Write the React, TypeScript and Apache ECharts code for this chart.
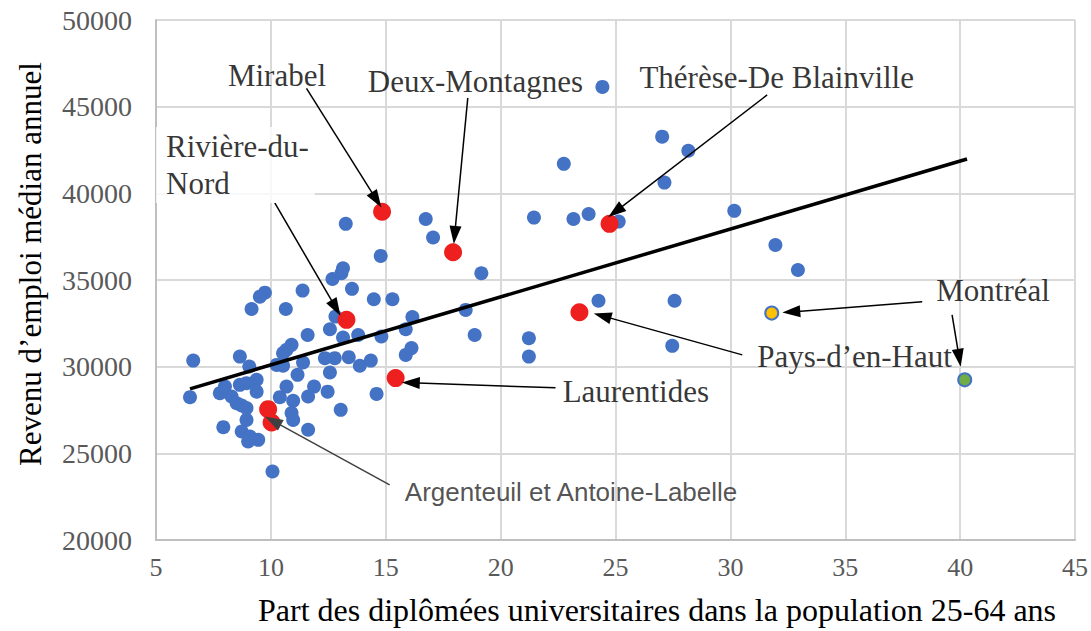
import React, { useEffect, useRef } from "react";
import * as echarts from "echarts";

// Blue points: other MRCs
const blueX = [6.62, 6.48, 7.93, 7.78, 8.0, 8.29, 8.65, 8.51, 8.73, 8.73, 9.16, 9.06, 9.38, 8.94, 8.65, 9.38, 8.94, 8.94, 9.09, 9.45, 9.01, 9.74, 9.52, 10.07, 10.25, 10.53, 10.65, 10.9, 10.68, 10.53, 10.68, 10.39, 10.97, 10.9, 10.97, 11.16, 11.4, 11.38, 11.6, 11.88, 11.62, 11.62, 12.35, 12.78, 13.39, 12.57, 12.47, 12.57, 12.81, 13.14, 13.07, 12.68, 13.53, 13.14, 13.8, 13.87, 14.35, 14.6, 13.04, 14.48, 15.29, 14.81, 14.78, 13.26, 15.87, 16.16, 16.12, 15.87, 16.74, 17.06, 19.16, 18.48, 18.87, 21.23, 21.23, 21.45, 22.75, 23.17, 23.83, 25.14, 24.26, 24.43, 27.03, 28.17, 27.13, 27.57, 27.47, 30.17, 31.96, 32.94];
const blueY = [30350, 28240, 26510, 28470, 28850, 28280, 30580, 27890, 27760, 26260, 33330, 30010, 29240, 29050, 28950, 28560, 27610, 26930, 25970, 25780, 25680, 34270, 34040, 23950, 30100, 30050, 33330, 31260, 30970, 30780, 28850, 28240, 28030, 27320, 26930, 29530, 30240, 34390, 31830, 28850, 28280, 26360, 30490, 30490, 30550, 29660, 28560, 32160, 32890, 35680, 35390, 35060, 34490, 31680, 31830, 30050, 30350, 28430, 27510, 33890, 33890, 31740, 36390, 38240, 32160, 32860, 31070, 30680, 38520, 37450, 35390, 33275, 31830, 31640, 30580, 38600, 41700, 38520, 38810, 38370, 33800, 46140, 43270, 42460, 40620, 33800, 31200, 38990, 37020, 35580];

// Red points: Laurentides MRCs
const redNames = ["Mirabel", "Deux-Montagnes", "Thérèse-De Blainville", "Rivière-du-Nord", "Pays-d'en-Haut", "Laurentides", "Argenteuil", "Antoine-Labelle"];
const redX = [14.84, 17.93, 24.74, 13.29, 23.43, 15.43, 9.88, 10.03];
const redY = [38940, 36600, 38240, 32700, 33140, 29340, 27550, 26780];

// Montréal points
const montrealX = [31.8, 40.2];
const montrealY = [33090, 29240];
const montrealColors = ["#FFC000", "#70AD47"];

// Trend line endpoints
const trendX = [6.48, 40.3];
const trendY = [28720, 41980];

// Annotation labels
const labelTexts = ["Mirabel", "Deux-Montagnes", "Thérèse-De Blainville", "Rivière-du-\nNord", "Laurentides", "Pays-d\u2019en-Haut", "Montréal"];
const labelX = [8.13, 14.22, 26.04, 5.0, 22.7, 31.17, 38.96];
const labelY = [46770, 46425, 46655, 41640, 28550, 30565, 34370];
const sansLabelText = "Argenteuil et Antoine-Labelle";
const sansLabelX = 15.83;
const sansLabelY = 22780;

// Arrows
const arrowFromX = [11.55, 18.57, 31.6, 10.17, 22.39, 30.52, 38.35, 39.65, 15.17];
const arrowFromY = [46060, 45500, 45675, 39445, 28780, 30680, 33740, 32990, 23185];
const arrowToX = [14.6, 18.0, 25.0, 12.83, 16.09, 24.43, 32.65, 39.96, 10.09];
const arrowToY = [39620, 37600, 38945, 33390, 29070, 32930, 33160, 30510, 26875];

const SERIF = '"Liberation Serif", "Times New Roman", serif';

export default function App() {
  const ref = useRef<HTMLDivElement>(null);
  useEffect(() => {
    const chart = echarts.init(ref.current!, null, { renderer: "svg" });
    const blueData = blueX.map((x, i) => [x, blueY[i]]);
    const redData = redX.map((x, i) => ({ value: [x, redY[i]], name: redNames[i] }));
    const montData = montrealX.map((x, i) => ({
      value: [x, montrealY[i]],
      itemStyle: { color: montrealColors[i] },
    }));
    const labelData: any[] = labelTexts.map((t, i) => ({
      value: [labelX[i], labelY[i]],
      label: {
        show: true,
        formatter: t,
        position: "inside",
        align: "left",
        verticalAlign: "middle",
        fontFamily: SERIF,
        fontSize: 31,
        color: "#000",
        lineHeight: 39,
        ...(i === 3 ? { backgroundColor: "#fff", padding: [2, 6, 0, 10], lineHeight: 37 } : {}),
      },
    }));
    labelData.push({
      value: [sansLabelX, sansLabelY],
      label: {
        show: true,
        formatter: sansLabelText,
        position: "inside",
        align: "left",
        verticalAlign: "middle",
        fontFamily: '"Liberation Sans", Arial, sans-serif',
        fontSize: 26,
        color: "#262626",
      },
    });
    const arrowData: any[] = arrowFromX.map((x, i) => [
      {
        coord: [x, arrowFromY[i]],
        lineStyle: { color: i === 8 ? "#404040" : "#000" },
      },
      { coord: [arrowToX[i], arrowToY[i]] },
    ]);

    chart.setOption({
      animation: false,
      grid: { left: 156, right: 15, top: 20, bottom: 91, containLabel: false },
      xAxis: {
        type: "value",
        min: 5,
        max: 45,
        interval: 5,
        axisLine: { show: true, onZero: false, lineStyle: { color: "#BFBFBF", width: 2 } },
        axisTick: { show: false },
        splitLine: { show: true, lineStyle: { color: "#D9D9D9", width: 2 } },
        axisLabel: { color: "#595959", fontFamily: SERIF, fontSize: 26, margin: 14 },
      },
      yAxis: {
        type: "value",
        min: 20000,
        max: 50000,
        interval: 5000,
        axisLine: { show: true, onZero: false, lineStyle: { color: "#BFBFBF", width: 2 } },
        axisTick: { show: false },
        splitLine: { show: true, lineStyle: { color: "#D9D9D9", width: 2 } },
        axisLabel: {
          color: "#595959",
          fontFamily: SERIF,
          fontSize: 28,
          margin: 24,
          formatter: (v: number) => String(v),
        },
      },
      graphic: [
        {
          type: "text",
          left: 258,
          top: 594,
          style: {
            text: "Part des diplômées universitaires dans la population 25-64 ans",
            font: '32px "Liberation Serif"',
            fill: "#000",
          },
        },
        {
          type: "text",
          x: 30,
          y: 264,
          rotation: Math.PI / 2,
          style: {
            text: "Revenu d\u2019emploi médian annuel",
            font: '31px "Liberation Serif"',
            fill: "#000",
            align: "center",
            verticalAlign: "middle",
          },
        },
      ],
      series: [
        {
          type: "scatter",
          data: blueData,
          symbolSize: 14,
          itemStyle: { color: "#4472C4", opacity: 1 },
          z: 2,
        },
        {
          type: "line",
          data: trendX.map((x, i) => [x, trendY[i]]),
          showSymbol: false,
          symbol: "none",
          lineStyle: { color: "#000", width: 3.5 },
          z: 3,
        },
        {
          type: "scatter",
          data: redData,
          symbolSize: 18,
          itemStyle: { color: "#EE1F1F", opacity: 1 },
          z: 4,
        },
        {
          type: "scatter",
          data: montData,
          symbolSize: 13,
          itemStyle: { borderColor: "#4472C4", borderWidth: 2, opacity: 1 },
          z: 4,
        },
        {
          type: "scatter",
          data: labelData,
          symbolSize: 1,
          itemStyle: { color: "rgba(0,0,0,0)" },
          clip: false,
          z: 6,
          markLine: {
            silent: true,
            symbol: ["none", "triangle"],
            symbolSize: [12, 18],
            label: { show: false },
            lineStyle: { color: "#000", width: 1.5, type: "solid" },
            data: arrowData,
          },
        },
      ],
    });
    return () => chart.dispose();
  }, []);
  return (
    <div
      ref={ref}
      style={{ position: "absolute", left: 0, top: 0, width: 1091, height: 631, background: "#fff" }}
    />
  );
}
